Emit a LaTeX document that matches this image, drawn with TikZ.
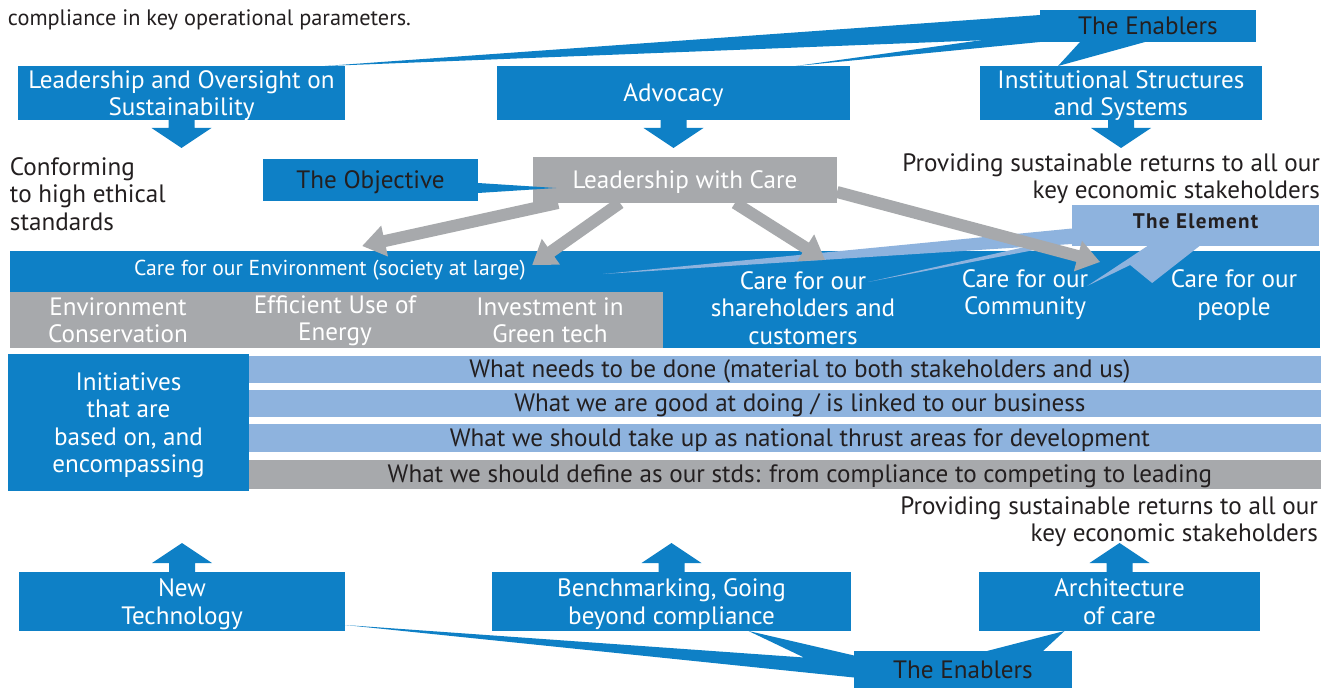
\documentclass[tikz,border=0pt]{standalone}
\usepackage{fontspec}
\setmainfont{PT Sans}
\usetikzlibrary{calc,arrows.meta}
\definecolor{cblue}{RGB}{14,128,198}
\definecolor{clight}{RGB}{142,179,222}
\definecolor{cgray}{RGB}{167,169,172}
\definecolor{ctext}{RGB}{35,31,32}
\tikzset{down block/.pic={\fill[cblue] (-13,0) -- (13,0) -- (13,8) -- (30,8) -- (0,28) -- (-30,8) -- (-13,8) -- cycle;}}
\tikzset{up block/.pic={\fill[cblue] (-13,0) -- (13,0) -- (13,-9) -- (30,-9) -- (0,-29) -- (-30,-9) -- (-13,-9) -- cycle;}}

\begin{document}
\begin{tikzpicture}[x=0.02cm,y=-0.02cm]
\tikzstyle{every node}=[font=\fontsize{14.3}{15.5}\selectfont,inner sep=0pt,outer sep=0pt]
\tikzstyle{blue box}=[fill=cblue,text=white,align=center,text depth=0pt]
\tikzstyle{tag box}=[fill=cblue,text=ctext,text depth=0pt]
\tikzstyle{gray box}=[fill=cgray,text=white,align=center,text depth=0pt]
\tikzstyle{row box}=[fill=clight,minimum width=21.44cm,anchor=west]
\tikzstyle{plain}=[text=ctext,align=left]
\tikzstyle{care arrow}=[draw=cgray,line width=0.24cm,-{Triangle[width=0.6cm,length=0.46cm]}]
\useasboundingbox (0,0) rectangle (1335,689);
\fill[white] (0,0) rectangle (1335,689);

\node[plain,anchor=west,font=\fontsize{12.7}{15}\selectfont] (intro) at (8,20) {compliance in key operational parameters.};

% enablers on top
\node[tag box,minimum width=4.32cm,minimum height=0.64cm] (topena) at (1148,26) {The Enablers};
\node[blue box,minimum width=6.54cm,minimum height=1.08cm] (lead) at (181.5,93) {Leadership and Oversight on\\Sustainability};
\node[blue box,minimum width=7.06cm,minimum height=1.08cm] (advo) at (673.5,93) {Advocacy};
\node[blue box,minimum width=5.64cm,minimum height=1.08cm] (inst) at (1121,93) {Institutional Structures\\and Systems};
\fill[cblue] ($(topena.north west)+(0,5)$) -- ($(lead.north east)+(-20,0)$) -- ($(topena.west)+(0,12)$) -- cycle;
\fill[cblue] ($(topena.west)+(0,6)$) -- ($(advo.north east)+(-54,0)$) -- (topena.south west) -- cycle;
\fill[cblue] ($(topena.south)+(-68,0)$) -- ($(inst.north west)+(78,0)$) -- ($(topena.south)+(-3,0)$) -- cycle;
\pic at (lead.south) {down block};
\pic at (advo.south) {down block};
\pic at (inst.south) {down block};

\node[plain,anchor=west] (ethic) at (10,194) {Conforming\\to high ethical\\standards};
\node[plain,anchor=east,align=right] (returns) at (1320,179) {Providing sustainable returns to all our\\key economic stakeholders};

% objective
\node[tag box,minimum width=4.3cm,minimum height=0.84cm] (obj) at (370.5,180) {The Objective};
\node[gray box,minimum width=6.08cm,minimum height=0.92cm] (lwc) at (685,180) {Leadership with Care};
\fill[cblue] ($(obj.east)+(0,3)$) -- ($(lwc.west)+(23,8)$) -- ($(obj.east)+(0,13)$) -- cycle;

% elements
\node[fill=cblue,minimum width=26.2cm,minimum height=1.94cm] (careall) at (665,299.5) {};
\node[fill=cgray,minimum width=13.06cm,minimum height=1.12cm] (green) at (336.5,320) {};
\node[text=white,font=\fontsize{12.3}{14}\selectfont] (envhead) at (330,270) {Care for our Environment (society at large)};
\node[text=white,align=center] (conserve) at (118,320) {Environment\\Conservation};
\node[text=white,align=center] (energy) at (335,321) {Efficient Use of\\Energy};
\node[text=white,align=center] (greentech) at (550,320) {Investment in\\Green tech};
\node[text=white,align=center] (share) at (803,308) {Care for our\\shareholders and\\customers};
\node[text=white,align=center] (comm) at (1025,295) {Care for our\\Community};
\node[text=white,align=center] (people) at (1234,295) {Care for our\\people};

\node[fill=clight,text=ctext,font=\fontsize{12}{13}\selectfont\bfseries\addfontfeature{LetterSpace=6},minimum width=4.94cm,minimum height=0.82cm,text height=0.48cm,text depth=0.34cm] (elem) at (1195.5,225.5) {The Element};
\fill[clight] ($(elem.west)+(0,3)$) -- ($(careall.north west)+(593,23)$) -- ($(elem.south west)+(0,-2)$) -- cycle;
\fill[clight] ($(elem.west)+(0,11)$) -- ($(careall.north west)+(858,31)$) -- ($(elem.south west)+(-22,1)$) -- cycle;
\fill[clight] ($(elem.south)+(-48,0)$) -- ($(careall.north west)+(1077,35)$) -- ($(careall.north west)+(1120,14)$) -- ($(careall.north west)+(1142,32)$) -- ($(elem.south)+(4,0)$) -- cycle;

\draw[care arrow] ($(lwc.south west)+(25,0)$) -- ($(careall.north west)+(352,-5)$);
\draw[care arrow] ($(lwc.south west)+(87,0)$) -- ($(careall.north west)+(522,14)$);
\draw[care arrow] ($(lwc.south)+(50,0)$) -- ($(careall.north west)+(815,9)$);
\draw[care arrow] ($(lwc.east)+(0,12)$) -- ($(careall.north west)+(1090,11)$);

% initiatives
\node[blue box,minimum width=4.82cm,minimum height=2.74cm,text depth=-0.16cm] (init) at (128.5,422.5) {Initiatives\\that are\\based on, and\\encompassing};
\node[row box,minimum height=0.54cm] (need) at (249,369.5) {};
\node[row box,minimum height=0.54cm] (good) at (249,403.5) {};
\node[row box,minimum height=0.56cm] (thrust) at (249,438) {};
\node[row box,fill=cgray,minimum height=0.58cm] (stds) at (249,474.5) {};
\node[text=ctext] (needtxt) at ($(need)+(15,2)$) {What needs to be done (material to both stakeholders and us)};
\node[text=ctext] (goodtxt) at ($(good)+(15,2)$) {What we are good at doing / is linked to our business};
\node[text=ctext] (thrusttxt) at ($(thrust)+(15,2)$) {What we should take up as national thrust areas for development};
\node[text=ctext] (stdstxt) at ($(stds)+(15,2)$) {What we should define as our stds: from compliance to competing to leading};
\node[plain,anchor=east,align=right] (returns2) at (1318,522) {Providing sustainable returns to all our\\key economic stakeholders};

% enablers at the bottom
\node[blue box,minimum width=6.52cm,minimum height=1.18cm] (newt) at (182,601.5) {New\\Technology};
\node[blue box,minimum width=7.18cm,minimum height=1.18cm] (bench) at (671.5,601.5) {Benchmarking, Going\\beyond compliance};
\node[blue box,minimum width=5.62cm,minimum height=1.18cm] (arch) at (1119.5,601.5) {Architecture\\of care};
\pic at (newt.north) {up block};
\pic at (bench.north) {up block};
\pic at (arch.north) {up block};
\node[tag box,minimum width=4.36cm,minimum height=0.74cm] (botena) at (963,669.5) {The Enablers};
\fill[cblue] ($(botena.west)+(0,-14)$) -- ($(bench.south)+(77,0)$) -- ($(botena.west)+(-50,-12)$) -- ($(newt.south east)+(0,-6)$) -- ($(botena.west)+(0,8)$) -- cycle;
\fill[cblue] ($(botena.north)+(24,0)$) -- ($(arch.south)+(-55,0)$) -- ($(botena.north)+(80,0)$) -- cycle;
\end{tikzpicture}
\end{document}
